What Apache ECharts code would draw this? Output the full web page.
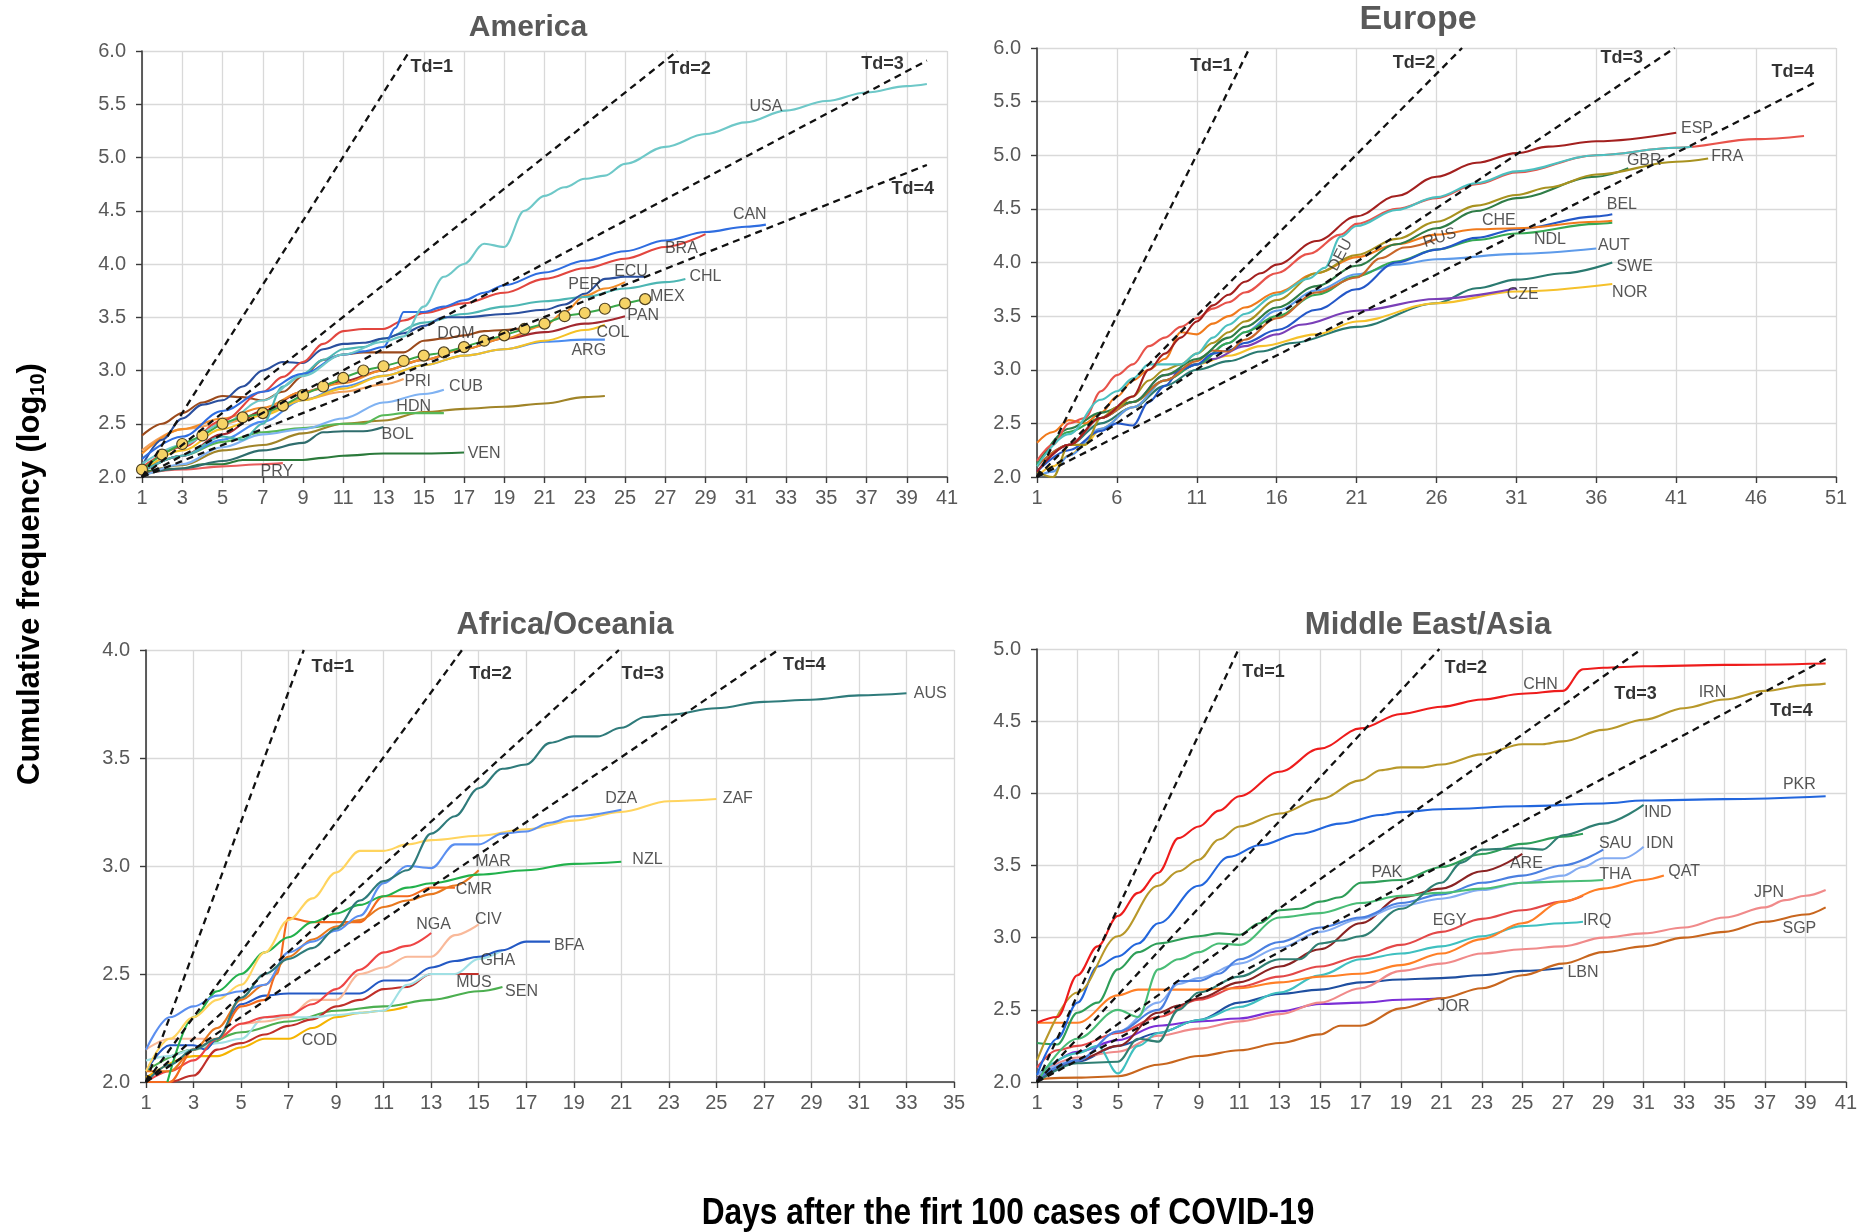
<!DOCTYPE html>
<html>
<head>
<meta charset="utf-8">
<title>COVID-19 cumulative cases by region</title>
<script src="https://cdn.jsdelivr.net/npm/echarts@6/dist/echarts.min.js"></script>
<style>
  html, body { margin: 0; padding: 0; background: #ffffff; }
  #chart { width: 1860px; height: 1232px; }
</style>
</head>
<body>
<div id="chart"></div>
<script>
// ---------------------------------------------------------------
// Cumulative cases (log10) per day after the first 100 cases.
// Each country: [day, log10(cases)]
// ---------------------------------------------------------------

// America
const USA = [[1,2.12],[3,2.3],[5,2.5],[7,2.72],[9,2.95],[11,3.15],[13,3.27],[14,3.32],[15,3.6],[16,3.88],[17,4.0],[18,4.19],[19,4.16],[20,4.5],[21,4.64],[22,4.72],[23,4.8],[24,4.83],[25,4.94],[27,5.1],[29,5.22],[31,5.33],[33,5.44],[35,5.53],[37,5.61],[39,5.67],[40,5.69]];
const CAN = [[1,2.17],[3,2.38],[5,2.62],[7,2.8],[9,2.97],[11,3.15],[12,3.18],[13,3.22],[13.6,3.4],[14,3.55],[15,3.55],[16,3.6],[17,3.66],[18,3.73],[19,3.8],[21,3.92],[23,4.03],[25,4.12],[27,4.22],[29,4.3],[31,4.35],[32,4.37]];
const BRA = [[1,2.09],[3,2.28],[5,2.53],[7,2.8],[8,2.94],[9,3.08],[10,3.25],[11,3.37],[12,3.39],[13,3.39],[14,3.47],[15,3.54],[17,3.63],[19,3.73],[21,3.86],[23,3.96],[25,4.05],[27,4.16],[29,4.28]];
const ECU = [[1,2.1],[2,2.35],[3,2.55],[4,2.68],[5,2.72],[6,2.85],[7,3.0],[8,3.08],[9,3.07],[10,3.2],[11,3.25],[12,3.26],[13,3.3],[14,3.35],[15,3.42],[16,3.5],[17,3.5],[19,3.53],[21,3.57],[22,3.62],[23,3.72],[24,3.86],[25,3.88],[26,3.88]];
const PER = [[1,2.22],[3,2.45],[5,2.55],[7,2.65],[9,2.8],[11,2.88],[13,3.0],[15,3.1],[17,3.2],[19,3.3],[21,3.42],[22,3.55],[23,3.7],[24,3.77],[25,3.83]];
const CHL = [[1,2.05],[3,2.2],[5,2.38],[6,2.35],[7,2.5],[8,2.85],[9,2.97],[10,3.1],[11,3.2],[12,3.22],[13,3.3],[15,3.45],[17,3.53],[19,3.6],[21,3.65],[23,3.69],[25,3.77],[27,3.83],[28,3.86]];
const MEX = [[1,2.07],[2,2.21],[3,2.31],[4,2.39],[5,2.5],[6,2.56],[7,2.6],[8,2.67],[9,2.77],[10,2.85],[11,2.93],[12,3.0],[13,3.04],[14,3.09],[15,3.14],[16,3.17],[17,3.22],[18,3.28],[19,3.33],[20,3.39],[21,3.44],[22,3.51],[23,3.54],[24,3.58],[25,3.63],[26,3.67]];
const PAN = [[1,2.05],[3,2.2],[5,2.4],[7,2.62],[9,2.8],[11,2.9],[13,3.0],[15,3.1],[17,3.2],[19,3.3],[21,3.36],[23,3.44],[25,3.51]];
const COL = [[1,2.05],[3,2.25],[5,2.45],[7,2.58],[9,2.72],[11,2.83],[13,2.95],[15,3.05],[17,3.14],[19,3.2],[21,3.28],[23,3.38],[24,3.43]];
const ARG = [[1,2.05],[3,2.2],[5,2.35],[7,2.52],[9,2.72],[11,2.85],[13,2.95],[15,3.05],[17,3.14],[19,3.2],[21,3.27],[23,3.29],[24,3.29]];
const DOM = [[1,2.39],[2,2.5],[3,2.6],[4,2.7],[5,2.76],[6,2.75],[7,2.72],[8,2.8],[9,2.95],[10,3.1],[11,3.15],[12,3.17],[13,3.17],[14,3.17],[15,3.28],[16,3.3],[17,3.33],[18,3.37],[19,3.38],[20,3.4]];
const PRI = [[1,2.25],[3,2.45],[5,2.5],[7,2.6],[9,2.73],[11,2.8],[13,2.87],[14,2.92]];
const CUB = [[1,2.0],[3,2.12],[5,2.28],[7,2.4],[9,2.45],[11,2.55],[13,2.7],[15,2.78],[16,2.82]];
const HDN = [[1,2.05],[3,2.2],[5,2.33],[7,2.42],[9,2.46],[11,2.5],[12,2.5],[13,2.58],[14,2.6],[16,2.6]];
const BOL = [[1,2.02],[3,2.08],[5,2.15],[7,2.25],[9,2.32],[10,2.42],[11,2.43],[12,2.43],[13,2.47]];
const VEN = [[1,2.05],[3,2.08],[4,2.12],[5,2.12],[6,2.16],[9,2.16],[10,2.18],[11,2.2],[13,2.22],[15,2.22],[17,2.23]];
const PRY = [[1,2.03],[3,2.07],[5,2.1],[7,2.12],[8,2.13]];
const GTM = [[1,2.03],[3,2.11],[5,2.25],[7,2.3],[9,2.41],[11,2.5],[13,2.53],[15,2.61],[17,2.64],[19,2.66],[21,2.69],[23,2.75],[24,2.76]];

// Europe
const ESP = [[1,2.05],[3,2.3],[5,2.55],[7,2.75],[8,3.0],[9,3.15],[10,3.3],[11,3.45],[12,3.6],[13,3.7],[14,3.82],[15,3.9],[16,3.98],[18.5,4.2],[21,4.43],[23.5,4.62],[26,4.8],[28.5,4.93],[31,5.02],[33,5.08],[36,5.13],[41,5.21]];
const ITA = [[1,2.15],[2,2.3],[3,2.5],[4,2.55],[5,2.8],[6,2.95],[7,3.05],[8,3.22],[9,3.3],[10,3.4],[11,3.48],[12,3.57],[13,3.63],[14,3.72],[16,3.9],[18,4.08],[20,4.26],[21,4.36],[23.5,4.5],[26,4.6],[28.5,4.73],[31,4.84],[36,5.0],[41,5.07],[46,5.15],[49,5.18]];
const DEU = [[1,2.1],[3,2.4],[5,2.72],[6,2.8],[7,2.92],[8,3.05],[9,3.05],[10,3.05],[11,3.15],[12,3.3],[13,3.42],[14,3.52],[16,3.7],[18,3.85],[19,3.95],[20,4.24],[21,4.34],[23.5,4.49],[26,4.61],[28.5,4.74],[31,4.85],[36,5.0],[41,5.07],[42,5.08]];
const FRA = [[1,2.05],[2,2.0],[3,2.3],[4,2.3],[5,2.55],[6,2.65],[7,2.75],[8,2.9],[9,3.0],[10,3.05],[11,3.15],[12,3.25],[13,3.35],[14,3.45],[16,3.65],[18.5,3.9],[21,4.07],[23.5,4.22],[26,4.38],[28.5,4.53],[31,4.63],[33,4.7],[36,4.82],[41,4.94],[43,4.97]];
const TUR = [[1,2.1],[3,2.45],[5,2.6],[7,2.7],[9,2.95],[11,3.1],[13,3.3],[14,3.4],[16,3.58],[18.5,3.78],[21,3.97],[23.5,4.17],[26,4.32],[28.5,4.48],[31,4.6],[36,4.8],[38,4.88]];
const CHE = [[1,2.32],[2,2.42],[3,2.53],[4,2.5],[5,2.6],[6,2.75],[7,2.9],[8,3.0],[9,3.1],[10,3.35],[11,3.33],[12,3.43],[13,3.5],[14,3.58],[16,3.72],[18.5,3.9],[21,4.05],[23.5,4.17],[26,4.26],[28.5,4.31],[31,4.32],[36,4.38],[37,4.39]];
const RUS = [[1,2.1],[3,2.3],[5,2.55],[7,2.7],[9,2.9],[11,3.08],[12,3.18],[13,3.17],[14,3.28],[16,3.48],[18.5,3.72],[21,3.86],[22.5,4.04],[24,4.14],[26,4.22]];
const BEL = [[1,2.05],[3,2.25],[5,2.43],[6,2.5],[7,2.48],[8,2.7],[9,2.85],[10,3.0],[11,3.05],[12,3.15],[13,3.18],[14,3.25],[16,3.37],[18.5,3.56],[21,3.75],[23.5,4.0],[26,4.12],[28.5,4.23],[31,4.31],[36,4.43],[37,4.45]];
const NDL = [[1,2.12],[3,2.42],[5,2.55],[7,2.7],[9,2.9],[11,3.05],[13,3.25],[14,3.35],[16,3.5],[18.5,3.7],[21,3.87],[23.5,4.01],[26,4.12],[28.5,4.21],[31,4.27],[36,4.36],[37,4.37]];
const AUT = [[1,2.0],[2,2.05],[3,2.2],[5,2.45],[7,2.65],[9,2.9],[11,3.05],[13,3.25],[14,3.35],[16,3.55],[18.5,3.74],[21,3.89],[23.5,3.98],[26,4.03],[31,4.08],[36,4.13]];
const CZE = [[1,2.05],[3,2.3],[5,2.55],[7,2.7],[9,2.95],[11,3.05],[12,3.1],[14,3.22],[16,3.33],[17.5,3.42],[21,3.55],[26,3.66],[31,3.76]];
const NOR = [[1,2.0],[2,2.1],[3,2.2],[4,2.3],[5,2.45],[7,2.65],[9,2.9],[11,3.05],[13,3.13],[15,3.22],[18.5,3.33],[21,3.45],[26,3.62],[31,3.73],[37,3.8]];
const SWE = [[1,2.1],[3,2.3],[5,2.5],[7,2.65],[9,2.85],[11,3.0],[13,3.08],[15,3.17],[17,3.25],[21,3.4],[26,3.62],[28.5,3.76],[31,3.84],[34,3.9],[37,4.0]];

// Africa / Oceania
const AUS = [[1,2.0],[2,2.08],[3,2.15],[4,2.2],[5,2.39],[6,2.5],[7,2.57],[8,2.62],[9,2.71],[10,2.84],[11,2.93],[12,2.98],[13,3.15],[14,3.23],[15,3.36],[16,3.45],[17,3.47],[18,3.57],[19,3.6],[20,3.6],[21,3.64],[22,3.69],[23,3.7],[25,3.73],[27,3.76],[29,3.77],[31,3.79],[33,3.8]];
const DZA = [[1,2.15],[2,2.3],[3,2.35],[4,2.4],[5,2.42],[6,2.45],[7,2.6],[8,2.65],[9,2.7],[10,2.77],[11,2.92],[12,3.0],[13,2.99],[14,3.1],[15,3.1],[16,3.15],[17,3.16],[18,3.2],[19,3.23],[21,3.26]];
const ZAF = [[1,2.05],[2,2.2],[3,2.3],[4,2.38],[5,2.45],[6,2.6],[7,2.75],[8,2.85],[9,2.97],[10,3.07],[11,3.07],[12,3.1],[13,3.12],[15,3.14],[17,3.17],[19,3.21],[21,3.25],[23,3.3],[25,3.31]];
const NZL = [[1.9,2.0],[3,2.3],[4,2.42],[5,2.5],[6,2.6],[7,2.67],[8,2.74],[9,2.78],[10,2.82],[11,2.86],[12,2.9],[13,2.92],[15,2.96],[17,2.98],[19,3.01],[21,3.02]];
const MAR = [[1,2.05],[2,2.05],[3,2.15],[4,2.25],[5,2.38],[6,2.45],[7,2.58],[8,2.66],[9,2.72],[10,2.75],[11,2.81],[12,2.84],[13,2.87],[14,2.91],[15,2.98]];
const CMR = [[1,2.0],[2,2.0],[3,2.15],[4,2.2],[5,2.35],[6,2.38],[6.5,2.5],[7,2.76],[8,2.74],[9,2.74],[10,2.74],[11,2.86],[12,2.86],[13,2.9],[14,2.9]];
const NGA = [[1,2.0],[2,2.05],[3,2.1],[4,2.2],[5,2.27],[6,2.3],[7,2.31],[8,2.36],[9,2.43],[10,2.52],[11,2.6],[12,2.63],[13,2.69]];
const CIV = [[1,2.15],[2,2.2],[3,2.2],[4,2.2],[5,2.27],[6,2.28],[7,2.3],[8,2.38],[9,2.38],[10,2.5],[11,2.53],[12,2.58],[13,2.58],[14,2.68],[15,2.73]];
const BFA = [[1,2.05],[2,2.17],[3,2.17],[3.5,2.15],[4,2.2],[5,2.36],[6,2.4],[7,2.41],[8,2.41],[9,2.41],[10,2.41],[11,2.47],[12,2.47],[13,2.53],[14,2.56],[15,2.58],[16,2.61],[17,2.65],[18,2.65]];
const GHA = [[1,2.1],[2,2.12],[3,2.15],[4,2.18],[5,2.2],[6,2.3],[7,2.3],[8,2.3],[9,2.31],[10,2.32],[11,2.33],[12,2.45],[13,2.5],[14,2.5],[15,2.57],[16,2.61]];
const MUS = [[1,2.0],[2,2.0],[3,2.03],[4,2.15],[5,2.18],[6,2.22],[7,2.26],[8,2.29],[9,2.35],[10,2.38],[11,2.43],[12,2.44],[13,2.5],[14,2.5],[15,2.5]];
const SEN = [[1,2.05],[3,2.15],[5,2.23],[7,2.28],[9,2.33],[11,2.35],[13,2.38],[15,2.42],[16,2.44]];
const COD = [[1,2.02],[3,2.12],[4,2.12],[5,2.16],[6,2.2],[7,2.2],[8,2.25],[9,2.3],[10,2.32],[11,2.33],[12,2.35]];

// Middle East / Asia
const CHN = [[1,2.41],[2,2.45],[3,2.74],[4,2.94],[5,3.15],[6,3.31],[7,3.45],[8,3.69],[9,3.77],[10,3.88],[11,3.98],[13,4.15],[15,4.31],[17,4.45],[19,4.55],[21,4.6],[23,4.65],[25,4.69],[27,4.71],[28,4.86],[29,4.87],[31,4.88],[35,4.89],[40,4.9]];
const IRN = [[1,2.15],[3,2.62],[5,3.01],[7,3.36],[8,3.46],[9,3.54],[10,3.68],[11,3.77],[13,3.86],[15,3.96],[17,4.09],[18,4.16],[19,4.18],[20,4.18],[21,4.2],[23,4.27],[25,4.34],[26,4.34],[27,4.36],[29,4.44],[31,4.51],[33,4.59],[35,4.65],[37,4.71],[39,4.75],[40,4.76]];
const PKR = [[1,2.05],[2,2.3],[3,2.55],[4,2.8],[5,2.87],[6,2.96],[7,3.1],[9,3.36],[10.5,3.56],[12,3.64],[14,3.72],[16,3.79],[18,3.85],[19,3.87],[21,3.89],[25,3.91],[29,3.93],[31,3.95],[35,3.96],[40,3.98]];
const IND = [[1,2.0],[3,2.13],[5,2.14],[6,2.3],[7,2.28],[8,2.5],[9,2.62],[11,2.73],[13,2.85],[14,2.85],[15,2.96],[16,2.98],[17,3.01],[19,3.2],[21,3.38],[22,3.52],[23,3.61],[25,3.62],[26,3.61],[27,3.71],[29,3.79],[31,3.92]];
const PAK = [[1,2.27],[2,2.26],[3,2.48],[4,2.55],[5,2.78],[6,2.9],[7,2.96],[9,3.01],[10,3.03],[11,3.02],[12,3.1],[13,3.19],[14,3.2],[15,3.25],[16,3.28],[17,3.38],[19,3.4],[21,3.49],[23,3.58],[25,3.65],[27,3.7],[28,3.72]];
const THA = [[1,2.0],[3,2.3],[5,2.5],[6,2.45],[7,2.78],[8,2.85],[9,2.9],[10,2.96],[11,2.95],[13,3.14],[15,3.17],[17,3.24],[19,3.29],[21,3.31],[23,3.34],[25,3.38],[27,3.39],[29,3.4]];
const SAU = [[1,2.02],[3,2.15],[5,2.35],[7,2.5],[8,2.7],[9,2.7],[10,2.75],[11,2.85],[13,2.97],[15,3.07],[17,3.14],[19,3.24],[21,3.3],[23,3.38],[25,3.43],[27,3.5],[29,3.61]];
const IDN = [[1,2.05],[3,2.15],[5,2.35],[7,2.55],[8,2.68],[9,2.72],[11,2.82],[13,2.93],[15,3.04],[17,3.13],[19,3.22],[21,3.27],[23,3.33],[25,3.38],[27,3.43],[28,3.49],[29,3.55],[30,3.55],[31,3.63]];
const ARE = [[1,2.02],[3,2.15],[5,2.25],[7,2.48],[8,2.53],[9,2.58],[11,2.69],[13,2.8],[15,2.92],[17,3.1],[19,3.28],[21,3.34],[23,3.46],[25,3.58]];
const QAT = [[1,2.41],[3,2.41],[5,2.6],[6,2.64],[9,2.64],[11,2.65],[13,2.69],[15,2.73],[17,2.75],[19,2.81],[21,2.89],[23,2.99],[25,3.1],[27,3.25],[29,3.34],[31,3.4],[32,3.43]];
const EGY = [[1,2.1],[2,2.22],[3,2.25],[5,2.34],[7,2.45],[9,2.57],[11,2.66],[13,2.73],[15,2.8],[17,2.87],[19,2.95],[21,3.04],[23,3.13],[25,3.19],[27,3.25],[28,3.29]];
const IRQ = [[1,2.05],[3,2.2],[4,2.25],[5,2.06],[6,2.25],[7,2.34],[9,2.43],[11,2.52],[13,2.62],[15,2.74],[17,2.85],[19,2.89],[21,2.94],[23,3.01],[25,3.08],[27,3.1],[28,3.11]];
const JPN = [[1,2.05],[3,2.17],[5,2.21],[7,2.32],[9,2.37],[11,2.42],[13,2.47],[15,2.55],[17,2.65],[19,2.77],[21,2.82],[23,2.89],[25,2.92],[27,2.94],[29,3.0],[31,3.03],[33,3.07],[35,3.14],[37,3.21],[38,3.26],[39,3.29],[40,3.33]];
const SGP = [[1,2.02],[3,2.03],[5,2.04],[7,2.12],[9,2.18],[11,2.22],[13,2.27],[15,2.33],[16,2.39],[17,2.39],[19,2.51],[21,2.58],[23,2.65],[25,2.74],[27,2.82],[29,2.9],[31,2.94],[33,3.0],[35,3.04],[37,3.11],[39,3.16],[40,3.21]];
const LBN = [[1,2.0],[3,2.14],[5,2.25],[7,2.34],[9,2.43],[11,2.55],[13,2.61],[15,2.64],[17,2.69],[19,2.71],[21,2.72],[23,2.74],[25,2.77],[27,2.79]];
const JOR = [[1,2.02],[3,2.21],[5,2.29],[7,2.39],[9,2.42],[11,2.44],[13,2.49],[15,2.54],[17,2.55],[19,2.57],[21,2.58]];

// Doubling-time reference lines: all start at day 1, log10 = 2.0
const TD_ORIGIN = [1, 2.0];
const tdAmerica = [[14.3, 6.0], [27.6, 6.0], [40, 5.91], [40, 4.93]];
const tdEurope  = [[14.3, 6.0], [27.6, 6.0], [40.9, 6.0], [49.7, 5.68]];
const tdAfrica  = [[7.64, 4.0], [14.3, 4.0], [20.9, 4.0], [27.6, 4.0]];
const tdAsia    = [[10.97, 5.0], [20.9, 5.0], [30.9, 5.0], [40, 4.93]];
const tdNames = ['Td=1', 'Td=2', 'Td=3', 'Td=4'];

// Axis ranges [min, max, interval]
const xAmerica = [1, 41, 2], yAmerica = [2, 6];
const xEurope  = [1, 51, 5], yEurope  = [2, 6];
const xAfrica  = [1, 35, 2], yAfrica  = [2, 4];
const xAsia    = [1, 41, 2], yAsia    = [2, 5];

// Series membership per panel
const americaLines = [['GTM', GTM], ['VEN', VEN], ['PRY', PRY], ['BOL', BOL], ['HDN', HDN], ['CUB', CUB], ['PRI', PRI],
  ['ARG', ARG], ['COL', COL], ['PAN', PAN], ['DOM', DOM], ['PER', PER], ['CHL', CHL], ['ECU', ECU], ['BRA', BRA], ['CAN', CAN], ['USA', USA]];
const europeLines = [['SWE', SWE], ['NOR', NOR], ['CZE', CZE], ['AUT', AUT], ['NDL', NDL], ['BEL', BEL], ['RUS', RUS], ['CHE', CHE],
  ['TUR', TUR], ['FRA', FRA], ['ITA', ITA], ['DEU', DEU], ['ESP', ESP]];
const africaLines = [['COD', COD], ['SEN', SEN], ['MUS', MUS], ['GHA', GHA], ['BFA', BFA], ['CIV', CIV], ['NGA', NGA], ['CMR', CMR],
  ['MAR', MAR], ['NZL', NZL], ['ZAF', ZAF], ['DZA', DZA], ['AUS', AUS]];
const asiaLines = [['JOR', JOR], ['LBN', LBN], ['SGP', SGP], ['JPN', JPN], ['IRQ', IRQ], ['EGY', EGY], ['QAT', QAT], ['ARE', ARE],
  ['IDN', IDN], ['SAU', SAU], ['THA', THA], ['PAK', PAK], ['IND', IND], ['PKR', PKR], ['IRN', IRN], ['CHN', CHN]];

// Line colours
const lineColors = {
  USA: '#6ec8c8', CAN: '#2f6de0', BRA: '#e2463f', ECU: '#2a4f9e', PER: '#f28c28', CHL: '#4db6b3', PAN: '#a3282f',
  COL: '#f4c126', ARG: '#4a8cf0', DOM: '#9b4a1c', PRI: '#f2a05a', CUB: '#7fb2f2', HDN: '#57b857', BOL: '#2f6d6d',
  VEN: '#2b7a3b', PRY: '#e85c5c', GTM: '#a08428',
  ESP: '#a3201f', ITA: '#e8534b', DEU: '#4cc0c0', FRA: '#a8921f', TUR: '#2f7d47', CHE: '#f07a1c', RUS: '#c9672a',
  BEL: '#2458c8', NDL: '#35a853', AUT: '#5e9bea', CZE: '#7a3fb8', NOR: '#f5c12b', SWE: '#2a7a70',
  AUS: '#2f7b7b', DZA: '#5b8ff0', ZAF: '#ffd45e', NZL: '#22b14c', MAR: '#e8781e', CMR: '#f36a1e', NGA: '#ee4545',
  CIV: '#f9b99a', BFA: '#2459c4', GHA: '#a0e0e4', MUS: '#c0302a', SEN: '#4caf50', COD: '#f5b400',
  CHN: '#ee1c1c', IRN: '#b8982a', PKR: '#2266dd', IND: '#2f7f73', PAK: '#2e9e58', THA: '#49bd76', SAU: '#4a7fe0',
  IDN: '#84acf2', ARE: '#8b2323', QAT: '#ff7f27', EGY: '#e34848', IRQ: '#3fc0c0', JPN: '#f08a8a', SGP: '#c8661e',
  LBN: '#1f4fa0', JOR: '#7b2fd6'
};

// Country label anchors [text, day, log10, rotation]
const americaLabels = [['USA',32.0,5.48],['CAN',31.2,4.46],['BRA',27.8,4.14],['ECU',25.3,3.93],['PER',23.0,3.81],['CHL',29.0,3.88],
  ['MEX',27.1,3.69],['PAN',25.9,3.52],['COL',24.4,3.36],['ARG',23.2,3.19],['DOM',16.6,3.35],['PRI',14.7,2.90],['CUB',17.1,2.85],
  ['HDN',14.5,2.66],['BOL',13.7,2.40],['VEN',18.0,2.22],['PRY',7.7,2.05]];
const europeLabels = [['ESP',42.3,5.25],['FRA',44.2,4.99],['GBR',39.0,4.95],['BEL',37.6,4.54],['CHE',29.9,4.39],['RUS',26.2,4.23,18],
  ['NDL',33.1,4.21],['AUT',37.1,4.16],['SWE',38.4,3.96],['NOR',38.1,3.72],['CZE',31.4,3.70],['DEU',20.0,4.07,62]];
const africaLabels = [['AUS',34.0,3.80],['DZA',21.0,3.31],['ZAF',25.9,3.31],['NZL',22.1,3.03],['MAR',15.6,3.02],['CMR',14.8,2.89],
  ['NGA',13.1,2.73],['CIV',15.4,2.75],['BFA',18.8,2.63],['GHA',15.8,2.56],['MUS',14.8,2.46],['SEN',16.8,2.42],['COD',8.3,2.19]];
const asiaLabels = [['CHN',25.9,4.75],['IRN',34.4,4.70],['PKR',38.7,4.06],['IND',31.7,3.87],['SAU',29.6,3.65],['IDN',31.8,3.65],
  ['ARE',25.2,3.51],['THA',29.6,3.44],['QAT',33.0,3.46],['JPN',37.2,3.31],['SGP',38.7,3.06],['EGY',21.4,3.12],['IRQ',28.7,3.12],
  ['LBN',28.0,2.76],['JOR',21.6,2.52],['PAK',18.3,3.45]];

// Doubling-time label anchors [day, log10]
const tdAmericaLabels = [[15.4,5.85],[28.2,5.83],[37.8,5.88],[39.3,4.70]];
const tdEuropeLabels  = [[11.9,5.83],[24.6,5.86],[37.6,5.91],[48.3,5.78]];
const tdAfricaLabels  = [[8.86,3.92],[15.5,3.89],[21.9,3.89],[28.7,3.93]];
const tdAsiaLabels    = [[12.2,4.84],[22.2,4.87],[30.6,4.69],[38.3,4.57]];

const panelTitles = ['America', 'Europe', 'Africa/Oceania', 'Middle East/Asia'];

// ---------------------------------------------------------------
const FONT = '"Liberation Sans", Arial, Helvetica, sans-serif';

const panels = [
  { grid: { left: 142, top: 51, width: 805, height: 426 }, x: xAmerica, y: yAmerica, lines: americaLines,
    labels: americaLabels, td: tdAmerica, tdLabels: tdAmericaLabels, title: [528, 28], titleSize: 30 },
  { grid: { left: 1037, top: 48, width: 799, height: 429 }, x: xEurope, y: yEurope, lines: europeLines,
    labels: europeLabels, td: tdEurope, tdLabels: tdEuropeLabels, title: [1418, 20], titleSize: 34 },
  { grid: { left: 146, top: 650, width: 808, height: 432 }, x: xAfrica, y: yAfrica, lines: africaLines,
    labels: africaLabels, td: tdAfrica, tdLabels: tdAfricaLabels, title: [565, 625], titleSize: 31 },
  { grid: { left: 1037, top: 649, width: 811, height: 433 }, x: xAsia, y: yAsia, lines: asiaLines,
    labels: asiaLabels, td: tdAsia, tdLabels: tdAsiaLabels, title: [1428, 625], titleSize: 31 }
];

const axisLabelStyle = { color: '#595959', fontSize: 20, fontFamily: FONT };
const grids = [], xAxes = [], yAxes = [], series = [], graphics = [];

panels.forEach((p, i) => {
  grids.push(Object.assign({ containLabel: false }, p.grid));
  xAxes.push({
    type: 'value', gridIndex: i, min: p.x[0], max: p.x[1], interval: p.x[2],
    axisLine: { show: true, onZero: false, lineStyle: { color: '#3a3a3a', width: 1.6 } },
    axisTick: { show: true, length: 6, lineStyle: { color: '#3a3a3a', width: 1.4 } },
    axisLabel: Object.assign({ margin: 11, showMinLabel: true, showMaxLabel: true }, axisLabelStyle),
    splitLine: { show: true, lineStyle: { color: '#d9d9d9', width: 1.3 } }
  });
  yAxes.push({
    type: 'value', gridIndex: i, min: p.y[0], max: p.y[1], interval: 0.5,
    axisLine: { show: true, onZero: false, lineStyle: { color: '#3a3a3a', width: 1.6 } },
    axisTick: { show: true, length: 6, lineStyle: { color: '#3a3a3a', width: 1.4 } },
    axisLabel: Object.assign({ margin: 16, showMinLabel: true, showMaxLabel: true,
      formatter: v => v.toFixed(1) }, axisLabelStyle),
    splitLine: { show: true, lineStyle: { color: '#d9d9d9', width: 1.3 } }
  });

  // country curves
  p.lines.forEach(([name, data]) => {
    series.push({
      type: 'line', name, xAxisIndex: i, yAxisIndex: i, data,
      showSymbol: false, smooth: 0.35, smoothMonotone: 'x', z: 2, silent: true,
      lineStyle: { color: lineColors[name], width: 2.1 }
    });
  });

  // Mexico drawn with circle markers on top of the America curves
  if (i === 0) {
    series.push({
      type: 'line', name: 'MEX', xAxisIndex: 0, yAxisIndex: 0, data: MEX,
      showSymbol: true, symbol: 'circle', symbolSize: 11, smooth: 0.3, z: 3, silent: true,
      lineStyle: { color: '#3aa84a', width: 2 },
      itemStyle: { color: '#f6d366', borderColor: '#4d4020', borderWidth: 1.2 }
    });
  }

  // doubling-time reference lines
  p.td.forEach(end => {
    series.push({
      type: 'line', xAxisIndex: i, yAxisIndex: i, data: [TD_ORIGIN, end],
      showSymbol: false, z: 4, silent: true,
      lineStyle: { color: '#111111', width: 2.3, type: [7, 5] }
    });
  });

  // country labels
  series.push({
    type: 'scatter', xAxisIndex: i, yAxisIndex: i, symbolSize: 0, z: 6, silent: true,
    data: p.labels.map(l => ({ value: [l[1], l[2]], name: l[0], label: { rotate: l[3] || 0 } })),
    label: { show: true, position: 'inside', formatter: '{b}', color: '#2b2b2b', fontSize: 16, fontFamily: FONT }
  });

  // doubling-time labels
  series.push({
    type: 'scatter', xAxisIndex: i, yAxisIndex: i, symbolSize: 0, z: 6, silent: true,
    data: p.tdLabels.map((l, k) => ({ value: l, name: tdNames[k] })),
    label: { show: true, position: 'inside', formatter: '{b}', color: '#000000', fontSize: 18,
      fontWeight: 'bold', fontFamily: FONT }
  });

  // panel title
  graphics.push({
    type: 'text', x: p.title[0], y: p.title[1], silent: true,
    style: { text: panelTitles[i], font: 'bold ' + p.titleSize + 'px ' + FONT, fill: '#595959',
      align: 'center', verticalAlign: 'middle', textAlign: 'center', textVerticalAlign: 'middle' }
  });
});

// shared axis titles
graphics.push({
  type: 'text', x: 30, y: 574, rotation: Math.PI / 2, silent: true,
  style: {
    text: '{a|Cumulative frequency (log}{b|10}{a|)}',
    align: 'center', verticalAlign: 'middle', textAlign: 'center', textVerticalAlign: 'middle',
    rich: {
      a: { fontFamily: FONT, fontWeight: 'bold', fontSize: 31, fill: '#000', color: '#000' },
      b: { fontFamily: FONT, fontWeight: 'bold', fontSize: 20, fill: '#000', color: '#000', padding: [16, 0, 0, 0] }
    }
  }
});
// condensed bold caption under the panels
graphics.push({
  type: 'text', x: 1008, y: 1214, scaleX: 0.88, silent: true,
  style: { text: 'Days after the firt 100 cases of COVID-19',
    font: 'bold 36px ' + FONT, fill: '#000',
    align: 'center', verticalAlign: 'middle', textAlign: 'center', textVerticalAlign: 'middle' }
});

const chart = echarts.init(document.getElementById('chart'), null, { renderer: 'canvas' });
chart.setOption({
  backgroundColor: '#ffffff',
  animation: false,
  grid: grids,
  xAxis: xAxes,
  yAxis: yAxes,
  series,
  graphic: { elements: graphics }
});
</script>
</body>
</html>
